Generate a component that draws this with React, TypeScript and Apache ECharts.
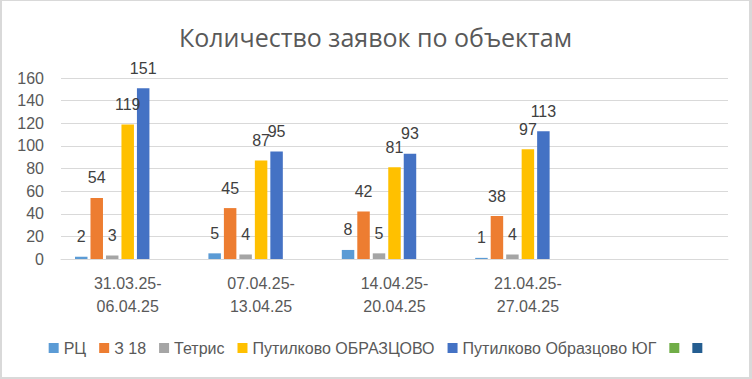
import React, { useEffect, useRef } from "react";
import * as echarts from "echarts";

const categories = ["31.03.25-\n06.04.25", "07.04.25-\n13.04.25", "14.04.25-\n20.04.25", "21.04.25-\n27.04.25", ""];
const seriesNames = ["РЦ", "З 18", "Тетрис", "Путилково ОБРАЗЦОВО", "Путилково Образцово ЮГ", " ", "  "];
const seriesColors = ["#5B9BD5", "#ED7D31", "#A5A5A5", "#FFC000", "#4472C4", "#70AD47", "#255E91"];
const rcValues = [2, 5, 8, 1];
const z18Values = [54, 45, 42, 38];
const tetrisValues = [3, 4, 5, 4];
const putilkovoValues = [119, 87, 81, 97];
const putilkovoSouthValues = [151, 95, 93, 113];
const emptyA: number[] = [];
const emptyB: number[] = [];
const yTicks = { min: 0, max: 160, interval: 20 };

const allValues = [rcValues, z18Values, tetrisValues, putilkovoValues, putilkovoSouthValues, emptyA, emptyB];

const FONT = "Liberation Sans";

export default function App() {
  const ref = useRef<HTMLDivElement>(null);
  useEffect(() => {
    if (!ref.current) return;
    const chart = echarts.init(ref.current, undefined, { renderer: "svg" });
    chart.setOption({
      animation: false,
      backgroundColor: "#ffffff",
      title: {
        text: "Количество заявок по объектам",
        left: "center",
        top: 18,
        textStyle: { fontFamily: "Open Sans", fontSize: 25, fontWeight: "normal", color: "#595959" },
      },
      legend: {
        data: seriesNames,
        left: "center",
        top: 334,
        icon: "rect",
        itemWidth: 10,
        itemHeight: 10,
        itemGap: 13,
        formatter: (n: string) => (n.trim() === "" ? "" : n),
        textStyle: { fontFamily: FONT, fontSize: 16, color: "#595959" },
      },
      grid: { left: 59, right: 21, top: 77, bottom: 118, containLabel: false },
      xAxis: {
        type: "category",
        data: categories,
        axisLine: { show: true, lineStyle: { color: "#D9D9D9", width: 1 } },
        axisTick: { show: false },
        axisLabel: {
          fontFamily: FONT,
          fontSize: 16,
          color: "#595959",
          lineHeight: 23,
          margin: 13,
          interval: 0,
        },
      },
      yAxis: {
        type: "value",
        min: yTicks.min,
        max: yTicks.max,
        interval: yTicks.interval,
        axisLine: { show: false },
        axisTick: { show: false },
        splitLine: { lineStyle: { color: "#D9D9D9", width: 1 } },
        axisLabel: { fontFamily: FONT, fontSize: 16, color: "#595959", margin: 17 },
      },
      series: seriesNames.map((name, i) => ({
        name,
        type: "bar",
        data: allValues[i],
        barGap: "24%",
        barCategoryGap: "21%",
        itemStyle: { color: seriesColors[i] },
        label: {
          show: true,
          position: "top",
          distance: 12,
          fontFamily: FONT,
          fontSize: 16,
          color: "#404040",
        },
      })),
    });
    return () => chart.dispose();
  }, []);
  return (
    <div style={{ position: "absolute", left: 0, top: 0, width: 752, height: 379, background: "#D9D9D9" }}>
      <div
        ref={ref}
        style={{ position: "absolute", left: 2, top: 1, width: 747, height: 376, background: "#ffffff" }}
      />
    </div>
  );
}
